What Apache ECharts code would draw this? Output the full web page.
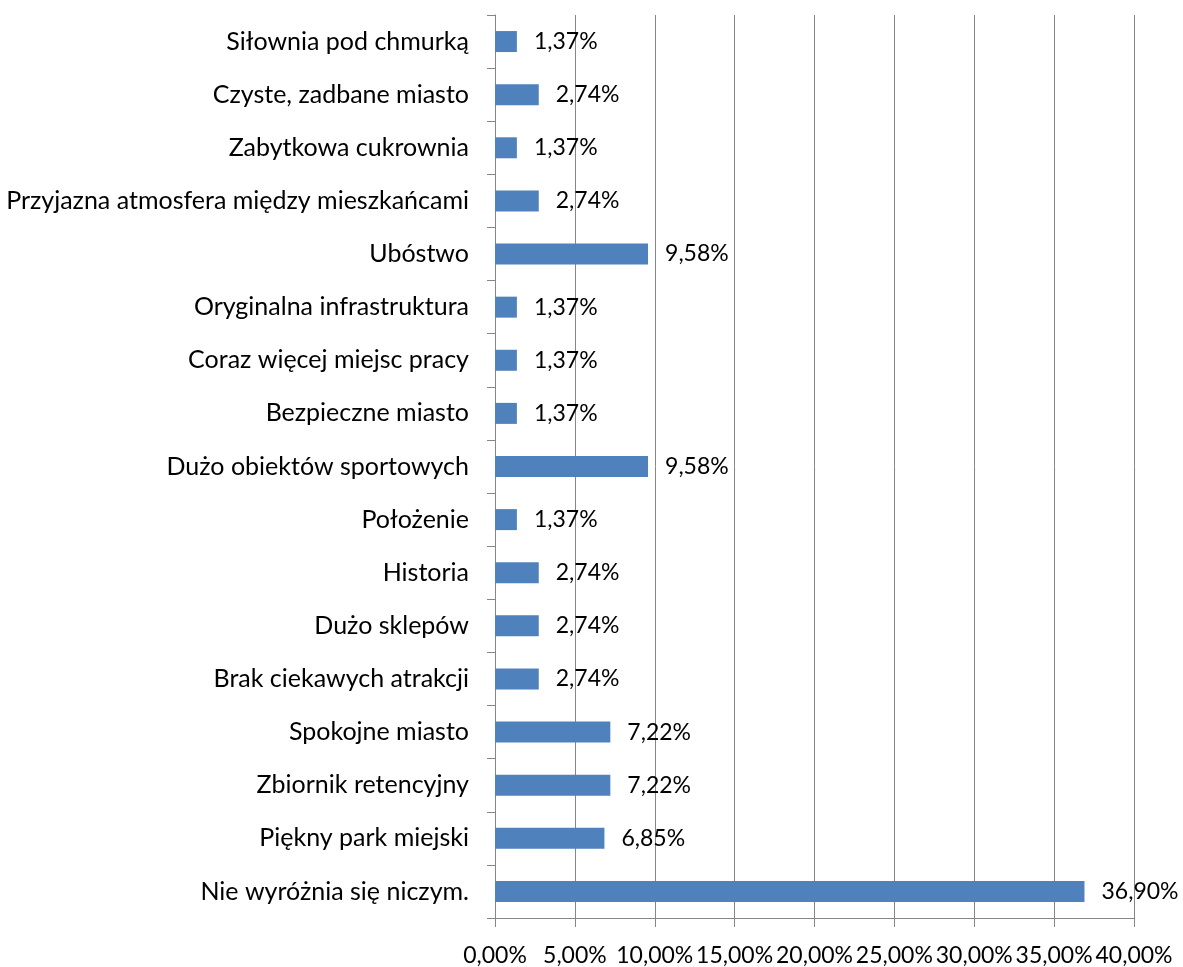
<!DOCTYPE html>
<html>
<head>
<meta charset="utf-8">
<script src="https://cdn.jsdelivr.net/npm/echarts@6/dist/echarts.min.js"></script>
<style>
  html, body { margin: 0; padding: 0; background: #fff; }
  #chart { width: 1183px; height: 967px; }
</style>
</head>
<body>
<div id="chart"></div>
<script>
// categories listed bottom -> top
const categories = [
  'Nie wyróżnia się niczym.',
  'Piękny park miejski',
  'Zbiornik retencyjny',
  'Spokojne miasto',
  'Brak ciekawych atrakcji',
  'Dużo sklepów',
  'Historia',
  'Położenie',
  'Dużo obiektów sportowych',
  'Bezpieczne miasto',
  'Coraz więcej miejsc pracy',
  'Oryginalna infrastruktura',
  'Ubóstwo',
  'Przyjazna atmosfera między mieszkańcami',
  'Zabytkowa cukrownia',
  'Czyste, zadbane miasto',
  'Siłownia pod chmurką'
]
const values = [36.90, 6.85, 7.22, 7.22, 2.74, 2.74, 2.74, 1.37, 9.58, 1.37, 1.37, 1.37, 9.58, 2.74, 1.37, 2.74, 1.37]

const fmt = v => v.toFixed(2).replace('.', ',') + '%'
const font = 'Lato'
const gray = '#868686'

const chart = echarts.init(document.getElementById('chart'))
chart.setOption({
  animation: false,
  textStyle: { fontFamily: font },
  grid: { left: 495, right: 49, top: 15, bottom: 45 },
  xAxis: {
    type: 'value',
    min: 0,
    max: 40,
    interval: 5,
    axisLine: { show: true, lineStyle: { color: gray } },
    axisTick: { show: true, length: 9, lineStyle: { color: gray } },
    splitLine: { show: true, lineStyle: { color: gray, width: 1 } },
    axisLabel: {
      formatter: fmt,
      color: '#000',
      fontSize: 23,
      fontFamily: font,
      margin: 26
    }
  },
  yAxis: {
    type: 'category',
    data: categories,
    axisLine: { show: true, lineStyle: { color: gray } },
    axisTick: { show: true, length: 8, lineStyle: { color: gray } },
    axisLabel: { color: '#000', fontSize: 25, fontFamily: font, margin: 26 }
  },
  series: [{
    type: 'bar',
    data: values,
    barWidth: 21,
    itemStyle: { color: '#4f81bd' },
    label: {
      show: true,
      position: 'right',
      distance: 17,
      formatter: p => fmt(p.value),
      color: '#000',
      fontSize: 23,
      fontFamily: font
    }
  }]
})
</script>
</body>
</html>
